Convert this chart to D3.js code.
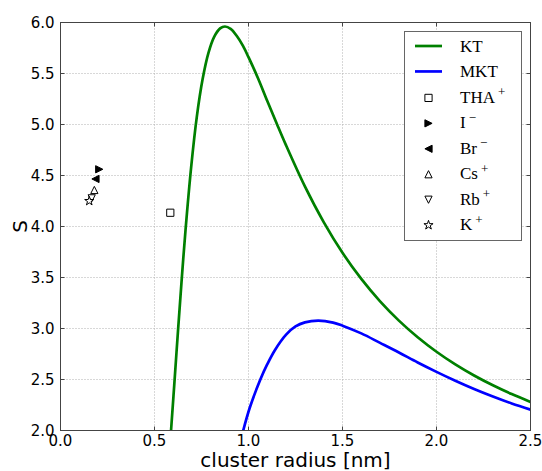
<!DOCTYPE html>
<html><head><meta charset="utf-8">
<script src="https://cdn.jsdelivr.net/npm/d3@7"></script>
<style>body{margin:0;background:#fff} svg{display:block}</style>
</head><body><svg id="c" width="542" height="471"></svg>
<script>
// KT curve (green) - first point lies just below the axis and is clipped
const ktX = [0.580, 0.588, 0.605, 0.625, 0.645, 0.665, 0.695, 0.725, 0.756, 0.787, 0.818, 0.849, 0.875, 0.905, 0.937, 0.970, 1.000, 1.050, 1.100, 1.150, 1.200, 1.300, 1.400, 1.500, 1.600, 1.700, 1.800, 1.900, 2.000, 2.100, 2.200, 2.300, 2.400, 2.500];
const ktS = [1.79, 2.00, 2.445, 2.977, 3.489, 3.964, 4.582, 5.075, 5.445, 5.702, 5.861, 5.942, 5.961, 5.938, 5.87, 5.773, 5.66, 5.456, 5.23, 5.01, 4.795, 4.393, 4.043, 3.742, 3.486, 3.266, 3.077, 2.914, 2.772, 2.648, 2.539, 2.443, 2.357, 2.280];
// MKT curve (blue) - first point lies just below the axis and is clipped
const mktX = [0.955, 0.972, 1.008, 1.063, 1.100, 1.141, 1.200, 1.250, 1.300, 1.371, 1.450, 1.500, 1.600, 1.700, 1.800, 1.900, 2.000, 2.100, 2.200, 2.300, 2.400, 2.500];
const mktS = [1.87, 2.00, 2.23, 2.50, 2.65, 2.79, 2.94, 3.02, 3.06, 3.077, 3.058, 3.028, 2.952, 2.859, 2.765, 2.667, 2.575, 2.488, 2.407, 2.333, 2.265, 2.205];
// ion points
const ionNames  = ["THA", "I", "Br", "Cs", "Rb", "K"];
const ionCharge = ["+", "\u2212", "\u2212", "+", "+", "+"];
const ionShape  = ["square", "triRight", "triLeft", "triUp", "triDown", "star"];
const ionR = [0.584, 0.206, 0.186, 0.180, 0.166, 0.153];
const ionS = [4.135, 4.561, 4.466, 4.358, 4.276, 4.250];
const seriesNames = ["KT", "MKT"];
const seriesColors = ["#008000", "#0000ff"];
const xTicks = [0.0, 0.5, 1.0, 1.5, 2.0, 2.5];
const yTicks = [2.0, 2.5, 3.0, 3.5, 4.0, 4.5, 5.0, 5.5, 6.0];

const svg = d3.select("#c");
const L = 60.5, R = 530.5, T = 22.5, B = 430.5;
const x = d3.scaleLinear().domain([0, 2.5]).range([L, R]);
const y = d3.scaleLinear().domain([2, 6]).range([B, T]);

svg.append("rect").attr("width", 542).attr("height", 471).attr("fill", "#fff");

// grid
const g = svg.append("g");
g.selectAll(".gx").data(xTicks.slice(1, -1)).join("line")
  .attr("x1", d => x(d)).attr("x2", d => x(d)).attr("y1", T).attr("y2", B)
  .attr("stroke", "#b0b0b0").attr("stroke-width", 1).attr("stroke-dasharray", "1,2");
g.selectAll(".gy").data(yTicks.slice(1, -1)).join("line")
  .attr("y1", d => y(d)).attr("y2", d => y(d)).attr("x1", L).attr("x2", R)
  .attr("stroke", "#b0b0b0").attr("stroke-width", 1).attr("stroke-dasharray", "1,2");

// clip
svg.append("clipPath").attr("id", "clip").append("rect")
  .attr("x", L).attr("y", T).attr("width", R - L).attr("height", B - T);

const line = d3.line().x(d => x(d[0])).y(d => y(d[1])).curve(d3.curveCatmullRom.alpha(0.5));
const curves = [d3.zip(ktX, ktS), d3.zip(mktX, mktS)];
curves.forEach((c, i) => {
  svg.append("path").attr("d", line(c)).attr("fill", "none")
    .attr("stroke", seriesColors[i]).attr("stroke-width", 2.7)
    .attr("stroke-linejoin", "round")
    .attr("clip-path", "url(#clip)");
});

// marker shapes
const h = 3.6;
const shapes = {
  square: `M${-h},${-h}H${h}V${h}H${-h}Z`,
  triUp: `M0,${-h}L${h},${h}L${-h},${h}Z`,
  triDown: `M0,${h}L${h},${-h}L${-h},${-h}Z`,
  triRight: `M${h},0L${-h},${-h}L${-h},${h}Z`,
  triLeft: `M${-h},0L${h},${-h}L${h},${h}Z`,
  star: d3.symbol().type(d3.symbolStar).size(26)()
};
const filled = {triRight: true, triLeft: true};
function marker(sel, shape, cx, cy) {
  sel.append("path").attr("d", shapes[shape])
    .attr("transform", `translate(${cx},${cy})`)
    .attr("fill", filled[shape] ? "#000" : "#fff")
    .attr("stroke", "#000").attr("stroke-width", 1);
}
ionR.forEach((r, i) => marker(svg, ionShape[i], x(r), y(ionS[i])));

// frame + ticks
const ax = svg.append("g").attr("stroke", "#444").attr("stroke-width", 1);
ax.append("rect").attr("x", L).attr("y", T).attr("width", R - L).attr("height", B - T).attr("fill", "none");
xTicks.forEach(t => {
  ax.append("line").attr("x1", x(t)).attr("x2", x(t)).attr("y1", B).attr("y2", B - 4);
  ax.append("line").attr("x1", x(t)).attr("x2", x(t)).attr("y1", T).attr("y2", T + 4);
});
yTicks.forEach(t => {
  ax.append("line").attr("y1", y(t)).attr("y2", y(t)).attr("x1", L).attr("x2", L + 4);
  ax.append("line").attr("y1", y(t)).attr("y2", y(t)).attr("x1", R).attr("x2", R - 4);
});

// tick labels
const tf = "DejaVu Sans";
svg.append("g").selectAll("text").data(xTicks).join("text")
  .attr("x", d => x(d)).attr("y", B + 15).attr("text-anchor", "middle")
  .attr("font-family", tf).attr("font-size", 15).attr("fill", "#000")
  .text(d => d.toFixed(1));
svg.append("g").selectAll("text").data(yTicks).join("text")
  .attr("x", L - 6).attr("y", d => y(d) + 5.5).attr("text-anchor", "end")
  .attr("font-family", tf).attr("font-size", 15).attr("fill", "#000")
  .text(d => d.toFixed(1));

// axis labels
svg.append("text").attr("x", (L + R) / 2).attr("y", 467).attr("text-anchor", "middle")
  .attr("font-family", tf).attr("font-size", 20).attr("fill", "#000").text("cluster radius [nm]");
svg.append("text").attr("transform", `translate(27,${(T + B) / 2}) rotate(-90)`)
  .attr("text-anchor", "middle").attr("font-family", tf).attr("font-size", 20).attr("fill", "#000").text("S");

// legend
const lg = svg.append("g");
lg.append("rect").attr("x", 404.5).attr("y", 31.5).attr("width", 117).attr("height", 209)
  .attr("fill", "#fff").attr("stroke", "#666").attr("stroke-width", 1);
const base0 = 52, step = 25.45, tx = 460, mx = 428.5;
const sf = "Liberation Serif";
seriesNames.forEach((n, i) => {
  const b = base0 + i * step;
  lg.append("line").attr("x1", 415).attr("x2", 442).attr("y1", b - 6).attr("y2", b - 6)
    .attr("stroke", seriesColors[i]).attr("stroke-width", 2.7);
  lg.append("text").attr("x", tx).attr("y", b).attr("font-family", sf).attr("font-size", 17)
    .attr("fill", "#000").text(n);
});
ionNames.forEach((n, i) => {
  const b = base0 + (i + 2) * step;
  marker(lg, ionShape[i], mx, b - 5);
  const t = lg.append("text").attr("x", tx).attr("y", b).attr("font-family", sf).attr("font-size", 17).attr("fill", "#000");
  t.append("tspan").text(n);
  t.append("tspan").attr("dx", 3).attr("dy", -6.5).attr("font-size", 13).attr("fill", "#000").text(ionCharge[i]);
});
</script></body></html>
